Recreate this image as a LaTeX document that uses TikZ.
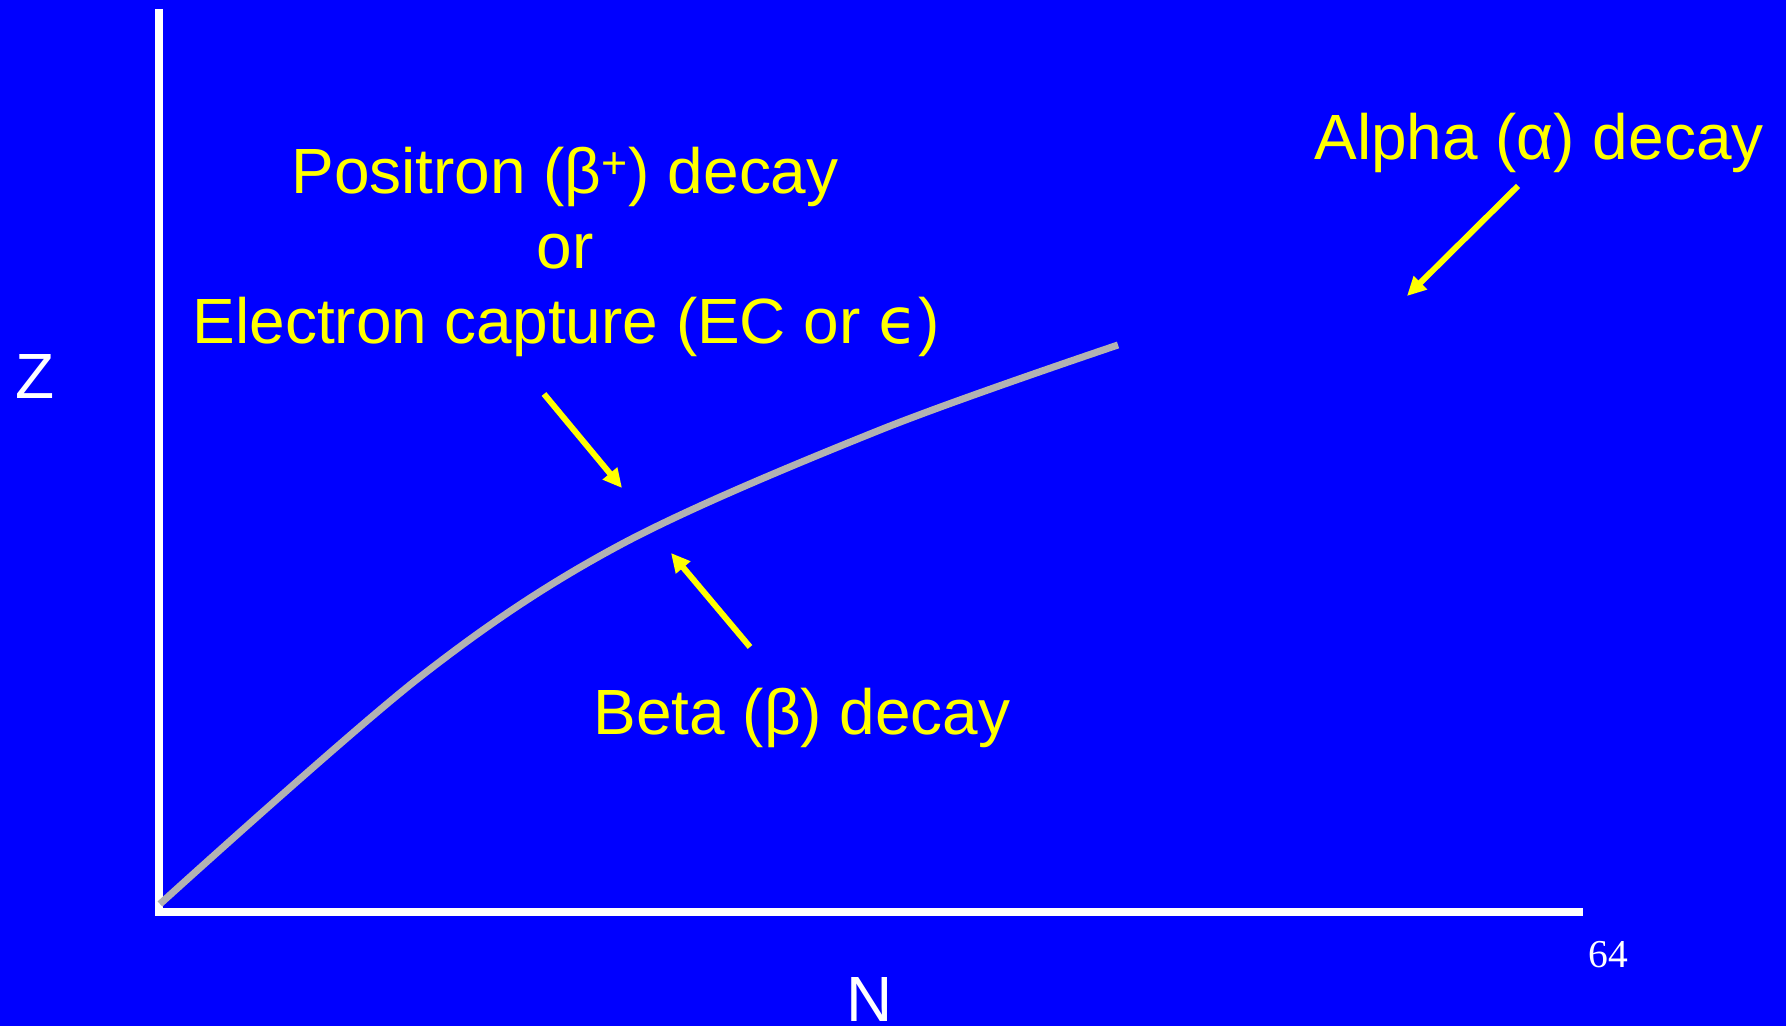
\documentclass[tikz,border=0pt]{standalone}
\usepackage{fontspec}
\setmainfont{Liberation Sans}
\newfontfamily\epsfont{DejaVu Sans}
\newfontfamily\pagefont{Liberation Serif}
\usetikzlibrary{arrows.meta}

\definecolor{slideblue}{RGB}{0,0,255}
\definecolor{labelyellow}{RGB}{255,255,0}
\definecolor{bandgray}{RGB}{178,178,178}

\begin{document}
\begin{tikzpicture}[x=0.02cm, y=-0.02cm,
	every node/.style={inner sep=0pt, anchor=base, font=\fontsize{36.4}{44}\selectfont},
	decaylabel/.style={text=labelyellow},
	axislabel/.style={text=white},
	axisline/.style={draw=white, line width=4.5pt},
	pointer/.style={draw=labelyellow, line width=3.4pt, -{Triangle[length=0.38cm, width=0.36cm]}}]
	\fill[slideblue] (0,0) rectangle (1786,1026);
	\useasboundingbox (0,0) rectangle (1786,1026);
	% axes
	\coordinate (O) at (159,912);
	\coordinate (Ztop) at (159,9);
	\coordinate (Nend) at (1583,912);
	\draw[axisline] (Ztop) -- (O |- 0,916);
	\draw[axisline] (O) -- (Nend);
	\node[axislabel] (Z) at (35,399) {Z};
	\node[axislabel] (N) at (870,1021) {N};
	\node[text=white, font=\pagefont\fontsize{22.5}{26}\selectfont] (page) at (1608,968) {64};
	% band of stability
	\draw[bandgray, line width=4pt] plot[smooth, tension=0.55] coordinates {(160,904) (420,677) (620,545) (880,430) (1118,345)};
	% labels
	\node[decaylabel] (posi) at (565,194) {Positron (β\textsuperscript{+}) decay};
	\node[decaylabel] (or) at (565,269) {or};
	\node[decaylabel] (ec) at (566,344) {Electron capture (EC or {\epsfont ϵ})};
	\node[decaylabel] (beta) at (802,735) {Beta (β) decay};
	\node[decaylabel] (alpha) at (1539,160) {Alpha (α) decay};
	% pointers
	\coordinate (posiTail) at (544,394);
	\coordinate (posiTip) at (622,488);
	\coordinate (betaTail) at (750,647);
	\coordinate (betaTip) at (671,553);
	\coordinate (alphaTail) at (1518,186);
	\coordinate (alphaTip) at (1407,296);
	\draw[pointer] (posiTail) -- (posiTip);
	\draw[pointer] (betaTail) -- (betaTip);
	\draw[pointer] (alphaTail) -- (alphaTip);
\end{tikzpicture}
\end{document}
